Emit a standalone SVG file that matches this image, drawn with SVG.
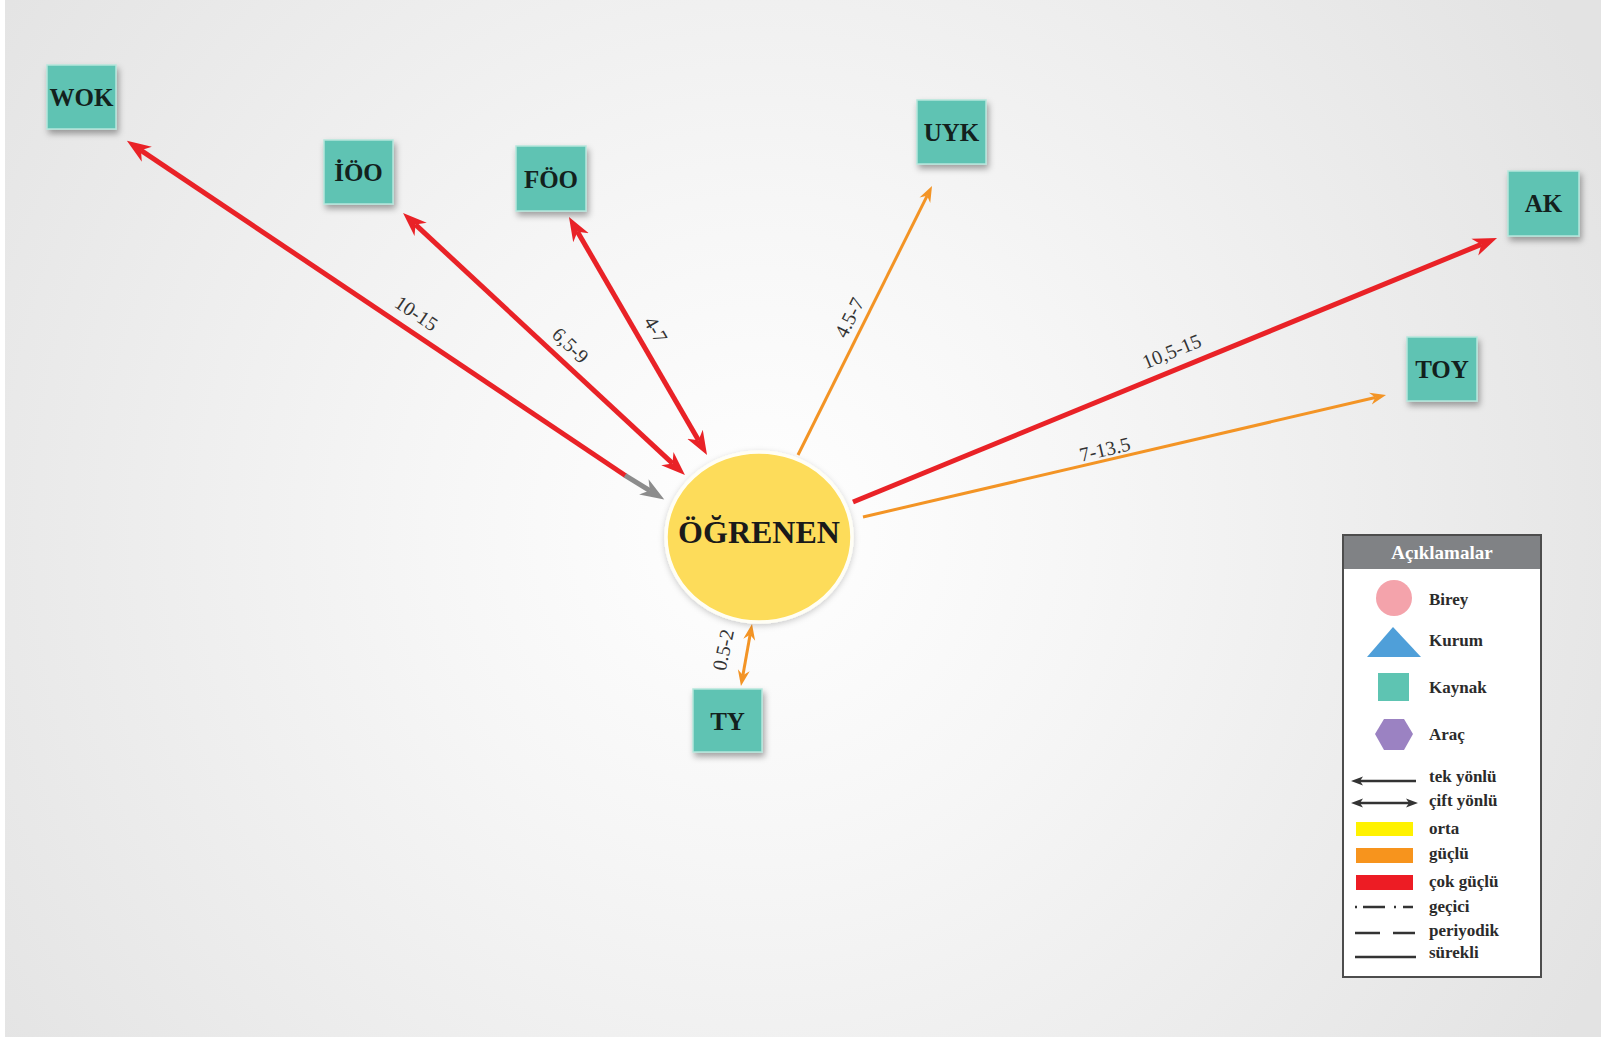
<svg xmlns="http://www.w3.org/2000/svg" width="1601" height="1039" viewBox="0 0 1601 1039">
<style>
.node rect{fill:#5fc3b3;stroke:#b5e6dc;stroke-width:1.5}
.nt{font-family:"Liberation Serif","DejaVu Serif",serif;font-weight:bold;font-size:25px;fill:#13211d;text-anchor:middle}
.lbl{font-family:"Liberation Serif","DejaVu Serif",serif;font-size:20px;fill:#333;text-anchor:middle}
.red{stroke:#e92227;stroke-width:5;fill:none}
.org{stroke:#f39425;stroke-width:3;fill:none}
.gry{stroke:#8c8c8c;stroke-width:5;fill:none}
.lg{font-family:"Liberation Serif","DejaVu Serif",serif;font-weight:bold;font-size:17px;fill:#2b2b2b}
.ll{stroke:#333;stroke-width:2.5;fill:none}
</style>
<defs>
<radialGradient id="bg" cx="760" cy="530" r="950" gradientUnits="userSpaceOnUse">
<stop offset="0" stop-color="#ffffff"/>
<stop offset="0.35" stop-color="#f6f6f6"/>
<stop offset="1" stop-color="#e3e3e3"/>
</radialGradient>
<filter id="sh" x="-30%" y="-30%" width="160%" height="170%">
<feDropShadow dx="2" dy="4" stdDeviation="3" flood-color="#000" flood-opacity="0.35"/>
</filter>
<filter id="csh" x="-20%" y="-20%" width="140%" height="140%">
<feDropShadow dx="0" dy="2" stdDeviation="3" flood-color="#000" flood-opacity="0.2"/>
</filter>
<marker id="mr" markerUnits="userSpaceOnUse" markerWidth="26" markerHeight="22" refX="7" refY="11" orient="auto-start-reverse" viewBox="0 0 26 22">
<path d="M24,11 L0,2 L7,11 L0,20 Z" fill="#e92227"/>
</marker>
<marker id="mg" markerUnits="userSpaceOnUse" markerWidth="26" markerHeight="22" refX="7" refY="11" orient="auto-start-reverse" viewBox="0 0 26 22">
<path d="M24,11 L0,2 L7,11 L0,20 Z" fill="#8c8c8c"/>
</marker>
<marker id="mo" markerUnits="userSpaceOnUse" markerWidth="18" markerHeight="14" refX="5" refY="7" orient="auto-start-reverse" viewBox="0 0 18 14">
<path d="M16,7 L0,1 L5,7 L0,13 Z" fill="#f39425"/>
</marker>
<marker id="mk" markerUnits="userSpaceOnUse" markerWidth="14" markerHeight="10" refX="3" refY="5" orient="auto-start-reverse" viewBox="0 0 14 10">
<path d="M12,5 L0,0.5 L3,5 L0,9.5 Z" fill="#333"/>
</marker>
</defs>
<rect x="0" y="0" width="1601" height="1039" fill="#ffffff"/>
<rect x="5" y="0" width="1596" height="1037" fill="url(#bg)"/>

<g id="connectors">
<path class="red" d="M141,150.3 L626,476" marker-start="url(#mr)"/>
<path class="gry" d="M625,475.3 L649.8,490.6" marker-end="url(#mg)"/>
<path class="red" d="M415.5,224.6 L672.5,463.4" marker-start="url(#mr)" marker-end="url(#mr)"/>
<path class="red" d="M577.5,231.7 L698.5,440.3" marker-start="url(#mr)" marker-end="url(#mr)"/>
<path class="org" d="M798,455 L927.1,195.8" marker-end="url(#mo)"/>
<path class="red" d="M853,502 L1481.3,244.4" marker-end="url(#mr)"/>
<path class="org" d="M863,517 L1375.3,397.5" marker-end="url(#mo)"/>
<path class="org" d="M742.9,675.2 L750.1,634.8" marker-start="url(#mo)" marker-end="url(#mo)"/>
<text class="lbl" transform="translate(416,314) rotate(33.7)" dy="6">10-15</text>
<text class="lbl" transform="translate(570,346) rotate(44)" dy="6">6,5-9</text>
<text class="lbl" transform="translate(655,330) rotate(60)" dy="6">4-7</text>
<text class="lbl" transform="translate(850,318) rotate(-63.5)" dy="6">4.5-7</text>
<text class="lbl" transform="translate(1172,352) rotate(-22.3)" dy="6">10,5-15</text>
<text class="lbl" transform="translate(1105,450) rotate(-13.1)" dy="6">7-13.5</text>
<text class="lbl" transform="translate(724,650) rotate(-78)" dy="6">0.5-2</text>
</g>

<g id="ogrenen">
<ellipse cx="759" cy="537" rx="93" ry="85" fill="#fddc5a" stroke="#fffef5" stroke-width="3.5" filter="url(#csh)"/>
<text x="759" y="543" font-family="'Liberation Serif','DejaVu Serif',serif" font-weight="bold" font-size="32" fill="#1a1a1a" text-anchor="middle">ÖĞRENEN</text>
</g>

<g id="wok" class="node"><rect x="47" y="65" width="69" height="64" filter="url(#sh)"/><text class="nt" x="81.5" y="106">WOK</text></g>
<g id="ioo" class="node"><rect x="324" y="140" width="69" height="64" filter="url(#sh)"/><text class="nt" x="358.5" y="181">İÖO</text></g>
<g id="foo" class="node"><rect x="516" y="146" width="70" height="65" filter="url(#sh)"/><text class="nt" x="551" y="188">FÖO</text></g>
<g id="uyk" class="node"><rect x="917" y="100" width="69" height="64" filter="url(#sh)"/><text class="nt" x="951.5" y="141">UYK</text></g>
<g id="ak" class="node"><rect x="1508" y="171" width="71" height="65" filter="url(#sh)"/><text class="nt" x="1543.5" y="212">AK</text></g>
<g id="toy" class="node"><rect x="1407" y="337" width="70" height="64" filter="url(#sh)"/><text class="nt" x="1442" y="378">TOY</text></g>
<g id="ty" class="node"><rect x="693" y="689" width="69" height="63" filter="url(#sh)"/><text class="nt" x="727.5" y="730">TY</text></g>

<g id="legend">
<rect x="1343" y="535" width="198" height="442" fill="#ffffff" stroke="#4d4d4d" stroke-width="2"/>
<rect x="1344" y="536" width="196" height="33" fill="#808285"/>
<text x="1442" y="559" font-family="'Liberation Serif','DejaVu Serif',serif" font-weight="bold" font-size="19" fill="#ffffff" text-anchor="middle">Açıklamalar</text>
<circle cx="1394" cy="598" r="18" fill="#f4a3ab"/>
<text class="lg" x="1429" y="605">Birey</text>
<polygon points="1393,627 1367,657 1421,657" fill="#4f9fd9"/>
<text class="lg" x="1429" y="646">Kurum</text>
<rect x="1378" y="673" width="31" height="28" fill="#5ec4b2"/>
<text class="lg" x="1429" y="693">Kaynak</text>
<polygon points="1375,734 1384,719 1404,719 1413,734 1404,750 1384,750" fill="#9b82c2"/>
<text class="lg" x="1429" y="740">Araç</text>
<path class="ll" d="M1360,781 L1416,781" marker-start="url(#mk)"/>
<text class="lg" x="1429" y="782">tek yönlü</text>
<path class="ll" d="M1360,803 L1409,803" marker-start="url(#mk)" marker-end="url(#mk)"/>
<text class="lg" x="1429" y="806">çift yönlü</text>
<rect x="1356" y="822" width="57" height="14" fill="#fff200"/>
<text class="lg" x="1429" y="834">orta</text>
<rect x="1356" y="848" width="57" height="15" fill="#f7941d"/>
<text class="lg" x="1429" y="859">güçlü</text>
<rect x="1356" y="875" width="57" height="15" fill="#ed1c24"/>
<text class="lg" x="1429" y="887">çok güçlü</text>
<path class="ll" d="M1355,907 L1357,907 M1363,907 L1385,907 M1394,907 L1396,907 M1403,907 L1413,907"/>
<text class="lg" x="1429" y="912">geçici</text>
<path class="ll" d="M1355,933 L1380,933 M1393,933 L1415,933"/>
<text class="lg" x="1429" y="936">periyodik</text>
<path class="ll" d="M1355,957 L1416,957"/>
<text class="lg" x="1429" y="958">sürekli</text>
</g>
</svg>
